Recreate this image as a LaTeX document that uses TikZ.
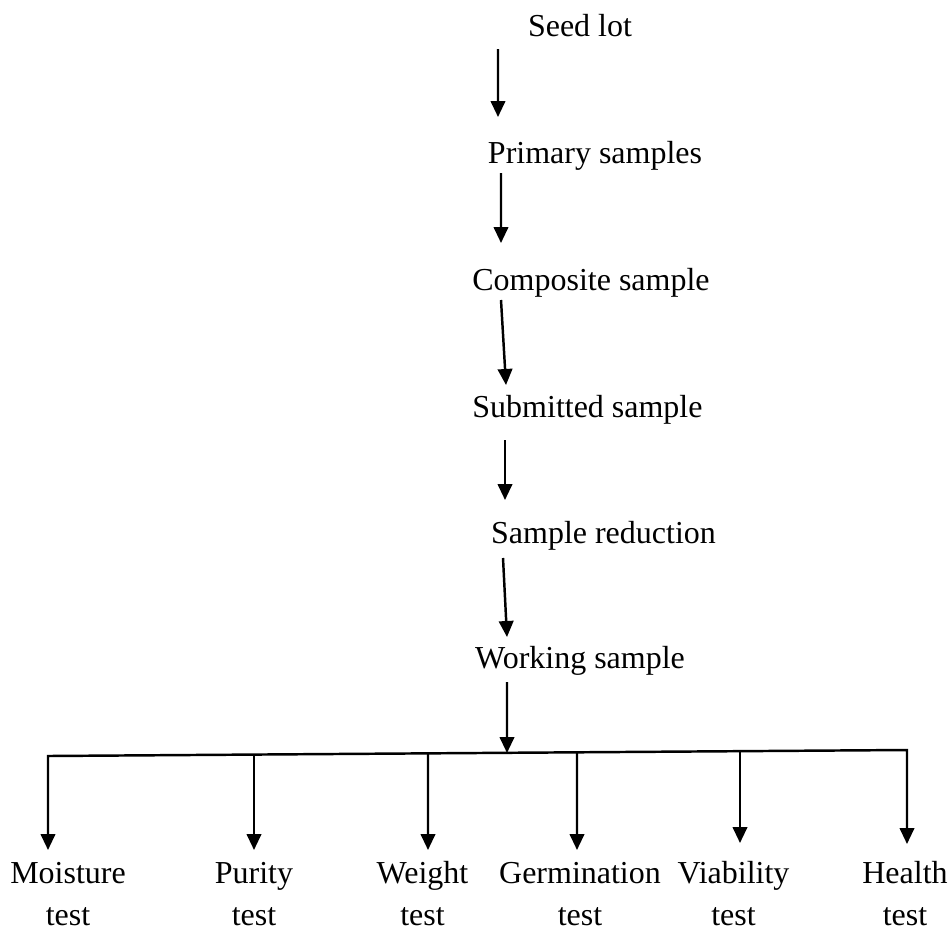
\documentclass[tikz,border=0pt]{standalone}
\usepackage{fontspec}
\setmainfont{Liberation Serif}
\usetikzlibrary{arrows.meta}

\begin{document}
\begin{tikzpicture}[>={Triangle[length=0.32cm, width=0.29cm]}, line width=1.4pt,
        stage/.style={anchor=base, inner sep=0pt, font=\fontsize{18.2}{23.9}\selectfont},
        testlbl/.style={anchor=base, align=center, inner sep=0pt, font=\fontsize{18.2}{23.9}\selectfont}]
    \useasboundingbox (0, 0) rectangle (19.02, -18.58);
    \node[stage] (seed) at (11.6, -0.72) {Seed lot};
    \node[stage] (prim) at (11.9, -3.26) {Primary samples};
    \node[stage] (comp) at (11.82, -5.8) {Composite sample};
    \node[stage] (subm) at (11.75, -8.34) {Submitted sample};
    \node[stage] (redu) at (12.07, -10.86) {Sample reduction};
    \node[stage] (work) at (11.6, -13.36) {Working sample};
    % the tests
    \node[testlbl] (moist) at (1.36, -18.5) {Moisture\\test};
    \node[testlbl] (puri) at (5.08, -18.5) {Purity\\test};
    \node[testlbl] (weig) at (8.45, -18.5) {Weight\\test};
    \node[testlbl] (germ) at (11.6, -18.5) {Germination\\test};
    \node[testlbl] (viab) at (14.67, -18.5) {Viability\\test};
    \node[testlbl] (heal) at (18.1, -18.5) {Health\\test};
    % points on the bar
    \coordinate (b1) at (0.96, -15.12);
    \coordinate (b2) at (5.08, -15.09);
    \coordinate (b3) at (8.56, -15.07);
    \coordinate (bus) at (10.14, -15.06);
    \coordinate (b4) at (11.54, -15.05);
    \coordinate (b5) at (14.8, -15.02);
    \coordinate (b6) at (18.14, -15.0);
    \draw[->] ([shift={(-1.64,-0.26)}]seed.base) -- ([shift={(-1.94,0.92)}]prim.base);
    \draw[->] ([shift={(-1.88,-0.2)}]prim.base) -- ([shift={(-1.8,0.94)}]comp.base);
    \draw[->] ([shift={(-1.8,-0.2)}]comp.base) -- ([shift={(-1.63,0.64)}]subm.base);
    \draw[->] ([shift={(-1.65,-0.46)}]subm.base) -- ([shift={(-1.97,0.86)}]redu.base);
    \draw[->] ([shift={(-2.01,-0.3)}]redu.base) -- ([shift={(-1.46,0.62)}]work.base);
    \draw[->] ([shift={(-1.46,-0.28)}]work.base) -- (bus);
    \draw[<->] ([shift={(-0.4,1.5)}]moist.base) -- (b1) -- (b6) -- ([shift={(0.04,1.62)}]heal.base);
    \draw[->] (b2) -- ([shift={(0,1.5)}]puri.base);
    \draw[->] (b3) -- ([shift={(0.11,1.5)}]weig.base);
    \draw[->] (b4) -- ([shift={(-0.06,1.5)}]germ.base);
    \draw[->] (b5) -- ([shift={(0.13,1.64)}]viab.base);
\end{tikzpicture}
\end{document}
